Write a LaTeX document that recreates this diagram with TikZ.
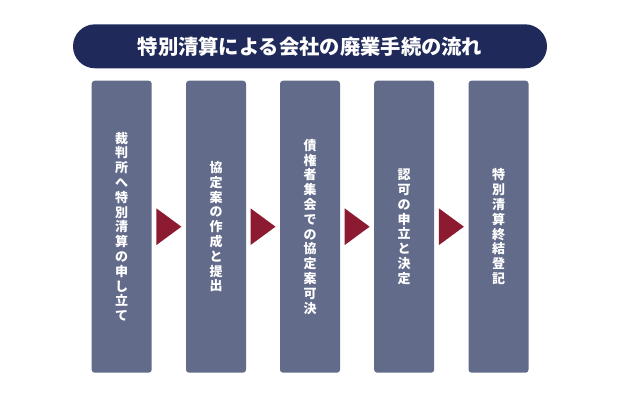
\documentclass[tikz,border=0pt]{standalone}
\usepackage{fontspec}
\setmainfont{Noto Sans CJK JP}
\usetikzlibrary{calc}

\definecolor{titlenavy}{HTML}{202A5A}
\definecolor{stepgray}{HTML}{636B8B}
\definecolor{arrowred}{HTML}{8C1A30}

\tikzset{
  titlebar/.style={fill=titlenavy, rounded corners=22pt, minimum width=474pt, minimum height=44pt, inner sep=0pt, text=white, font=\fontsize{20.3}{22}\selectfont\bfseries},
  stepbox/.style={fill=stepgray, rounded corners=3pt, minimum width=60pt, minimum height=292pt, inner sep=0pt, text=white, align=center, font=\fontsize{13}{14.8}\selectfont\bfseries},
  flowarrow/.style={fill=arrowred}
}

\begin{document}
\begin{tikzpicture}[x=1pt, y=-1pt]
    \useasboundingbox (0,0) rectangle (620,401);
    \begin{scope}
      \node[titlebar] (title) at (310,46.3) {特別清算による会社の廃業手続の流れ};
      \node[stepbox] (s1) at (121.7,226.7) {裁\\判\\所\\へ\\特\\別\\清\\算\\の\\申\\し\\立\\て};
      \node[stepbox] (s2) at (216,226.7) {協\\定\\案\\の\\作\\成\\と\\提\\出};
      \node[stepbox] (s3) at (310,226.7) {債\\権\\者\\集\\会\\で\\の\\協\\定\\案\\可\\決};
      \node[stepbox] (s4) at (404.2,226.7) {認\\可\\の\\申\\立\\と\\決\\定};
      \node[stepbox] (s5) at (498.5,226.7) {特\\別\\清\\算\\終\\結\\登\\記};
      \foreach \a/\b in {s1/s2,s2/s3,s3/s4,s4/s5} {
        \coordinate (m\a) at ($(\a.east)!0.5!(\b.west)$);
        \fill[flowarrow] ($(m\a)+(-12.5,-18.4)$) -- ($(m\a)+(12.5,0)$) -- ($(m\a)+(-12.5,18.4)$) -- cycle;
      }
    \end{scope}
  \end{tikzpicture}
\end{document}
